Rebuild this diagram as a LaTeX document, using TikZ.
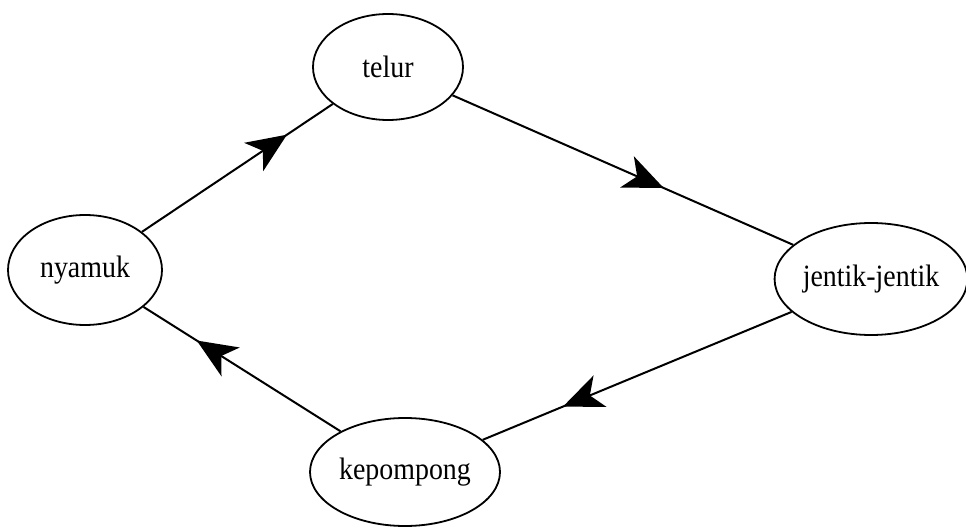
\documentclass[tikz,border=0pt]{standalone}
\usepackage{fontspec}
\setmainfont[FakeStretch = 0.9]{Liberation Serif}
\usetikzlibrary{shapes.geometric, arrows.meta, decorations.markings}

\tikzstyle{stage} = [ellipse, draw = black, line width = 1.8pt, inner sep = 0pt, text centered, font = \fontsize{31}{36}\selectfont]
\tikzstyle{arrow} = [line width = 2pt, draw = black]
\tikzstyle{midarrow} = [postaction = {decorate}, decoration = {markings, mark = at position #1 with {\arrow{Stealth[length = 40pt, width = 34pt, inset = 11pt]}}}]

\begin{document}
\begin{tikzpicture}[x = 1pt, y = -1pt]
    \useasboundingbox (0, 0) rectangle (966, 529);
    	\node(telur)[stage, minimum width = 150pt, minimum height = 106pt] at (388, 67) {telur};
        \node(nyamuk)[stage, minimum width = 154pt, minimum height = 110pt] at (85, 270) {nyamuk};
        \node(jentik)[stage, minimum width = 186pt, minimum height = 112pt] at (871, 279) {jentik-jentik};
        \node(kepompong)[stage, minimum width = 190pt, minimum height = 108pt] at (405, 472) {kepompong};
        \draw[arrow, midarrow = 0.76] (nyamuk) -- (telur);
        \draw[arrow, midarrow = 0.62] (telur) -- (jentik);
        \draw[arrow, midarrow = 0.74] (jentik) -- (kepompong);
        \draw[arrow, midarrow = 0.73] (kepompong) -- (nyamuk);
    \end{tikzpicture}
\end{document}
